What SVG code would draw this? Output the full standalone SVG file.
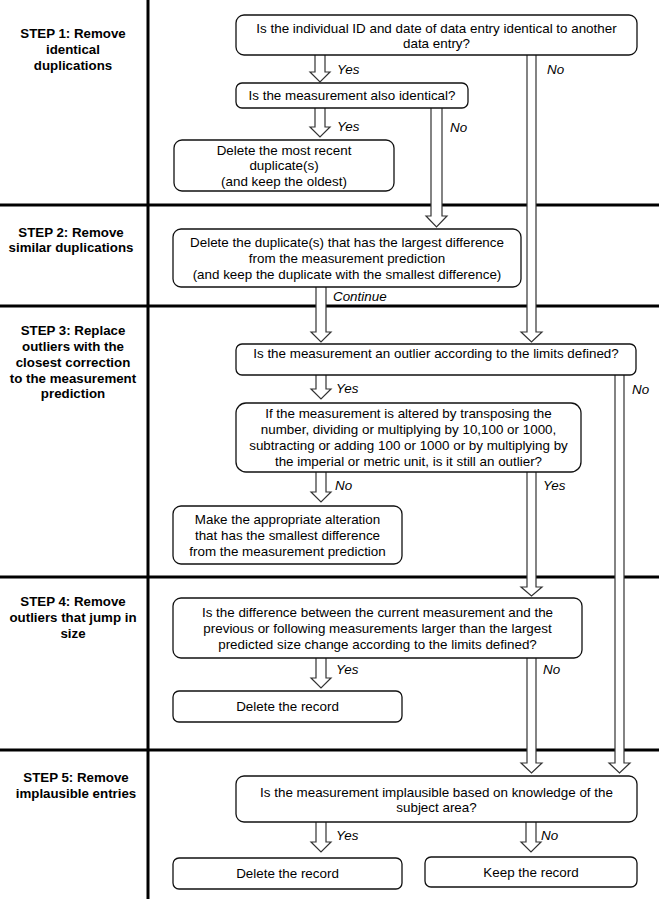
<svg xmlns="http://www.w3.org/2000/svg" width="659" height="899" viewBox="0 0 659 899">
<style>
.bg{fill:#fff}
.div{stroke:#000;stroke-width:3;fill:none}
.box{fill:#fff;stroke:#111;stroke-width:1.3}
.arr{fill:#fff;stroke:#333;stroke-width:1.2;stroke-linejoin:miter}
.t{font-family:"Liberation Sans",Arial,sans-serif;font-size:13.4px;fill:#000;text-anchor:middle}
.s{font-family:"Liberation Sans",Arial,sans-serif;font-size:13.3px;font-weight:bold;fill:#000;text-anchor:middle}
.l{font-family:"Liberation Sans",Arial,sans-serif;font-size:13.4px;font-style:italic;fill:#000}
</style>
<rect class="bg" x="0" y="0" width="659" height="899"/>
<g id="dividers">
<line class="div" x1="148" y1="0" x2="148" y2="899"/>
<line class="div" x1="0" y1="205" x2="659" y2="205"/>
<line class="div" x1="0" y1="306" x2="659" y2="306"/>
<line class="div" x1="0" y1="577" x2="659" y2="577"/>
<line class="div" x1="0" y1="750" x2="659" y2="750"/>
</g>
<g id="steps">
<text class="s" x="73" y="38">STEP 1: Remove</text>
<text class="s" x="73" y="54">identical</text>
<text class="s" x="73" y="70">duplications</text>
<text class="s" x="71" y="237">STEP 2: Remove</text>
<text class="s" x="71" y="252">similar duplications</text>
<text class="s" x="73" y="335">STEP 3: Replace</text>
<text class="s" x="73" y="351">outliers with the</text>
<text class="s" x="73" y="367">closest correction</text>
<text class="s" x="73" y="383">to the measurement</text>
<text class="s" x="73" y="398">prediction</text>
<text class="s" x="73" y="606">STEP 4: Remove</text>
<text class="s" x="73" y="622">outliers that jump in</text>
<text class="s" x="73" y="638">size</text>
<text class="s" x="76" y="782">STEP 5: Remove</text>
<text class="s" x="76" y="798">implausible entries</text>
</g>
<g id="connectors">
<path class="arr" d="M315,55 V72 H310 L320,82 L330,72 H325 V55"/>
<path class="arr" d="M527,55 V332 H521 L531.5,342 L542,332 H536 V55"/>
<path class="arr" d="M315,108 V127 H310 L320,137 L330,127 H325 V108"/>
<path class="arr" d="M431,108 V216 H426 L436.5,227 L447,216 H442 V108"/>
<path class="arr" d="M316,287 V332 H311 L321,342 L331,332 H326 V287"/>
<path class="arr" d="M316,375 V389 H311 L321,399 L331,389 H326 V375"/>
<path class="arr" d="M615,375 V763 H609 L619.5,773 L630,763 H624 V375"/>
<path class="arr" d="M316,472 V492 H311 L321,502 L331,492 H326 V472"/>
<path class="arr" d="M527,472 V587 H521 L531.5,596 L542,587 H536 V472"/>
<path class="arr" d="M316,658 V678 H311 L321,688 L331,678 H326 V658"/>
<path class="arr" d="M527,658 V763 H521 L531.5,773 L542,763 H536 V658"/>
<path class="arr" d="M316,822 V842 H311 L321,852 L331,842 H326 V822"/>
<path class="arr" d="M526,822 V842 H521 L531,852 L541,842 H536 V822"/>
<text class="l" x="337" y="74">Yes</text>
<text class="l" x="547" y="74">No</text>
<text class="l" x="337" y="131">Yes</text>
<text class="l" x="450" y="132">No</text>
<text class="l" x="333" y="301">Continue</text>
<text class="l" x="336" y="393">Yes</text>
<text class="l" x="632" y="394">No</text>
<text class="l" x="335" y="490">No</text>
<text class="l" x="543" y="490">Yes</text>
<text class="l" x="336" y="674">Yes</text>
<text class="l" x="543" y="674">No</text>
<text class="l" x="336" y="840">Yes</text>
<text class="l" x="541" y="840">No</text>
</g>
<g id="q1">
<rect class="box" x="236" y="15" width="401" height="40" rx="8"/>
<text class="t" x="436.5" y="33">Is the individual ID and date of data entry identical to another</text>
<text class="t" x="436.5" y="48">data entry?</text>
</g>
<g id="q2">
<rect class="box" x="236" y="83" width="232" height="25" rx="6"/>
<text class="t" x="352" y="100">Is the measurement also identical?</text>
</g>
<g id="a1">
<rect class="box" x="174" y="140" width="220" height="51" rx="8"/>
<text class="t" x="284" y="155">Delete the most recent</text>
<text class="t" x="284" y="170">duplicate(s)</text>
<text class="t" x="284" y="186">(and keep the oldest)</text>
</g>
<g id="a2">
<rect class="box" x="173" y="229" width="348" height="58" rx="8"/>
<text class="t" x="347" y="247">Delete the duplicate(s) that has the largest difference</text>
<text class="t" x="347" y="263">from the measurement prediction</text>
<text class="t" x="347" y="279">(and keep the duplicate with the smallest difference)</text>
</g>
<g id="q3">
<rect class="box" x="236" y="344" width="400" height="31" rx="6"/>
<text class="t" x="436" y="358">Is the measurement an outlier according to the limits defined?</text>
</g>
<g id="q4">
<rect class="box" x="236" y="403" width="345" height="69" rx="10"/>
<text class="t" x="408.5" y="418">If the measurement is altered by transposing the</text>
<text class="t" x="408.5" y="434">number, dividing or multiplying by 10,100 or 1000,</text>
<text class="t" x="408.5" y="450">subtracting or adding 100 or 1000 or by multiplying by</text>
<text class="t" x="408.5" y="466">the imperial or metric unit, is it still an outlier?</text>
</g>
<g id="a3">
<rect class="box" x="173" y="506" width="229" height="58" rx="8"/>
<text class="t" x="287.5" y="524">Make the appropriate alteration</text>
<text class="t" x="287.5" y="540">that has the smallest difference</text>
<text class="t" x="287.5" y="556">from the measurement prediction</text>
</g>
<g id="q5">
<rect class="box" x="173" y="598" width="409" height="60" rx="8"/>
<text class="t" x="377.5" y="617">Is the difference between the current measurement and the</text>
<text class="t" x="377.5" y="633">previous or following measurements larger than the largest</text>
<text class="t" x="377.5" y="649">predicted size change according to the limits defined?</text>
</g>
<g id="a4">
<rect class="box" x="173" y="691" width="229" height="31" rx="6"/>
<text class="t" x="287.5" y="711">Delete the record</text>
</g>
<g id="q6">
<rect class="box" x="236" y="776" width="401" height="46" rx="8"/>
<text class="t" x="436.5" y="797">Is the measurement implausible based on knowledge of the</text>
<text class="t" x="436.5" y="812">subject area?</text>
</g>
<g id="a5">
<rect class="box" x="173" y="858" width="229" height="31" rx="6"/>
<text class="t" x="287.5" y="878">Delete the record</text>
</g>
<g id="a6">
<rect class="box" x="425" y="857" width="212" height="30" rx="6"/>
<text class="t" x="531" y="877">Keep the record</text>
</g>
</svg>
